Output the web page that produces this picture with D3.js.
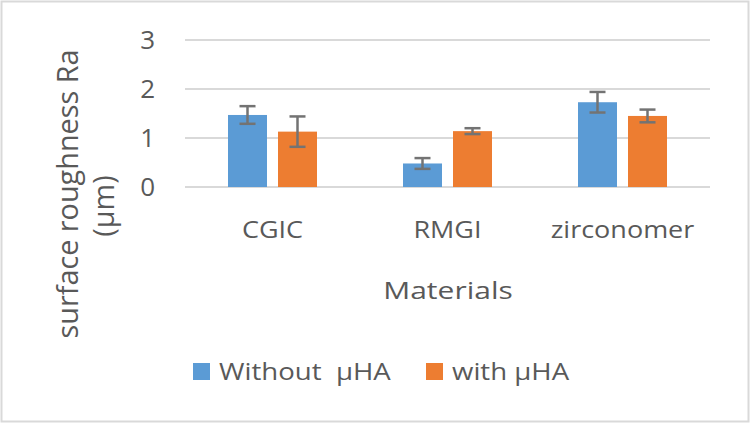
<!DOCTYPE html>
<html><head><meta charset="utf-8">
<script src="https://cdn.jsdelivr.net/npm/d3@7"></script>
<style>html,body{margin:0;padding:0;background:#fff;}</style>
</head><body>
<script>
const categories = ["CGIC", "RMGI", "zirconomer"];
const seriesNames = ["Without  µHA", "with µHA"];
const withoutHA = [1.47, 0.48, 1.73];
const withHA = [1.13, 1.14, 1.45];
const withoutHAErr = [0.18, 0.11, 0.21];
const withHAErr = [0.31, 0.06, 0.13];
const yTicks = [0, 1, 2, 3];
const yTitle = ["surface roughness Ra", "(µm)"];
const xTitle = "Materials";
const colors = ["#5B9BD5", "#ED7D31"];

const W = 750, H = 423;
const FONT = "'Open Sans', sans-serif";
const textColor = "#595959";

const svg = d3.select("body").append("svg").attr("width", W).attr("height", H);
svg.append("rect").attr("x", 1.5).attr("y", 1.5).attr("width", W - 3).attr("height", H - 3)
  .attr("fill", "#fff").attr("stroke", "#D9D9D9").attr("stroke-width", 2);

const x0 = d3.scaleBand().domain(categories).range([185, 710]).padding(0);
const x1 = d3.scaleBand().domain(seriesNames).range([-44.5, 44.5]).paddingInner(0.22).paddingOuter(0);
const y = d3.scaleLinear().domain([0, 3]).range([187, 40]);

// gridlines
svg.append("g").selectAll("line").data(yTicks).join("line")
  .attr("x1", 185).attr("x2", 710)
  .attr("y1", d => y(d)).attr("y2", d => y(d))
  .attr("stroke", "#D9D9D9").attr("stroke-width", 2);

function stretch(sx, sy) {
  return sel => sel.each(function() {
    const t = d3.select(this);
    const xx = +t.attr("x"), yy = +t.attr("y");
    t.attr("transform", `translate(${xx},${yy}) scale(${sx},${sy}) translate(${-xx},${-yy})`);
  });
}

// y tick labels
svg.append("g").selectAll("text").data(yTicks).join("text")
  .attr("x", 155).attr("y", d => y(d) + 9)
  .attr("text-anchor", "end").attr("font-family", FONT).attr("font-size", 26)
  .attr("fill", textColor).text(d => d);

const data = categories.map((c, i) => ({
  cat: c,
  vals: [
    { s: seriesNames[0], v: withoutHA[i], e: withoutHAErr[i], c: colors[0] },
    { s: seriesNames[1], v: withHA[i], e: withHAErr[i], c: colors[1] }
  ]
}));

const groups = svg.append("g").selectAll("g").data(data).join("g")
  .attr("transform", d => `translate(${x0(d.cat) + x0.bandwidth() / 2},0)`);

groups.selectAll("rect").data(d => d.vals).join("rect")
  .attr("x", d => x1(d.s)).attr("width", x1.bandwidth())
  .attr("y", d => y(d.v)).attr("height", d => y(0) - y(d.v))
  .attr("fill", d => d.c);

// error bars
const eb = groups.selectAll("g.err").data(d => d.vals).join("g").attr("class", "err");
const ecol = "#737373", ew = 2.5, cap = 8;
const cx = d => x1(d.s) + x1.bandwidth() / 2;
eb.append("line")
  .attr("x1", cx).attr("x2", cx)
  .attr("y1", d => y(d.v + d.e)).attr("y2", d => y(d.v - d.e))
  .attr("stroke", ecol).attr("stroke-width", ew);
eb.append("line")
  .attr("x1", d => cx(d) - cap).attr("x2", d => cx(d) + cap)
  .attr("y1", d => y(d.v + d.e)).attr("y2", d => y(d.v + d.e))
  .attr("stroke", ecol).attr("stroke-width", ew);
eb.append("line")
  .attr("x1", d => cx(d) - cap).attr("x2", d => cx(d) + cap)
  .attr("y1", d => y(d.v - d.e)).attr("y2", d => y(d.v - d.e))
  .attr("stroke", ecol).attr("stroke-width", ew);

// category labels
svg.append("g").selectAll("text").data(categories).join("text")
  .attr("x", d => x0(d) + x0.bandwidth() / 2).attr("y", 238)
  .attr("text-anchor", "middle").attr("font-family", FONT).attr("font-size", 27)
  .attr("fill", textColor).text(d => d).call(stretch(1, 0.87));

// x title
svg.append("text").attr("x", 448).attr("y", 299).attr("text-anchor", "middle")
  .attr("font-family", FONT).attr("font-size", 30).attr("fill", textColor)
  .text(xTitle).call(stretch(1, 0.78));

// y title
const yt = svg.append("text").attr("transform", `translate(0,205) rotate(-90)`)
  .attr("text-anchor", "middle").attr("font-family", FONT).attr("font-size", 28.8).attr("fill", textColor);
yt.selectAll("tspan").data(yTitle).join("tspan")
  .attr("x", (d, i) => [11, -1][i]).attr("y", (d, i) => [78, 114][i]).text(d => d);

// legend
const legX = [193, 426];
const leg = svg.append("g").selectAll("g").data(seriesNames).join("g");
leg.append("rect").attr("x", (d, i) => legX[i]).attr("y", 363).attr("width", 17).attr("height", 17)
  .attr("fill", (d, i) => colors[i]);
leg.append("text").attr("x", (d, i) => legX[i] + 26).attr("y", 380.5)
  .attr("font-family", FONT).attr("font-size", 27.6).attr("fill", textColor)
  .attr("xml:space", "preserve").style("white-space", "pre").text(d => d).call(stretch(1, 0.86));
</script>
</body></html>
